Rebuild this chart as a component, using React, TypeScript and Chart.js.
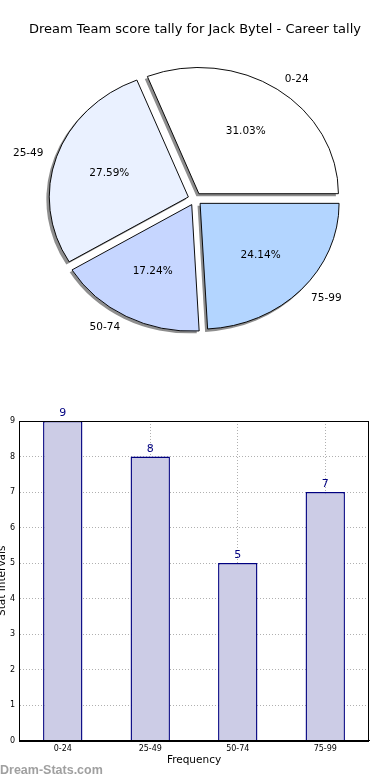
import React, { useEffect, useRef } from 'react';
import { Chart, registerables } from 'chart.js';

Chart.register(...registerables);

// ---- data ----
const TITLE = 'Dream Team score tally for Jack Bytel - Career tally';
const categories = ['0-24', '25-49', '50-74', '75-99'];
const counts = [9, 8, 5, 7];
const pieColors = ['#ffffff', '#eaf1ff', '#c6d6ff', '#b3d5ff'];
const yTickMax = 9;
const yTickStep = 1;
const xAxisTitle = 'Frequency';
const yAxisTitle = 'Stat Intervals';
const WATERMARK = 'Dream-Stats.com';

// ---- style ----
const FONT = '"DejaVu Sans", sans-serif';
const SY = 0.905; // vertical squash of the pie (ellipse)
const OFFSET = 28; // chart.js translates arcs by offset/4
const SHADOW = '#8e8e8e';
const GRID = '#b0b0b0';
const BAR_FILL = '#ccccE6';
const BAR_EDGE = '#000080';

const total = counts.reduce((a, b) => a + b, 0);
const pieOrder = [3, 2, 1, 0]; // chart.js draws clockwise; reverse to mimic counter-clockwise

function squash(ctx: CanvasRenderingContext2D, cx: number, cy: number) {
  ctx.translate(cx, cy);
  ctx.scale(1, SY);
  ctx.translate(-cx, -cy);
}

const pieEllipsePlugin = {
  id: 'pieEllipse',
  beforeDatasetsDraw(chart: any) {
    const ctx = chart.ctx as CanvasRenderingContext2D;
    const arcs = chart.getDatasetMeta(0).data;
    const cx = arcs[0].x;
    const cy = arcs[0].y;
    ctx.save();
    // shadows
    ctx.save();
    ctx.translate(-2.5, 2.5);
    squash(ctx, cx, cy);
    ctx.fillStyle = SHADOW;
    arcs.forEach((a: any) => {
      const p = a.getProps(['x', 'y', 'startAngle', 'endAngle', 'outerRadius'], true);
      const h = (p.startAngle + p.endAngle) / 2;
      const d = OFFSET / 4;
      const ox = p.x + Math.cos(h) * d;
      const oy = p.y + Math.sin(h) * d;
      ctx.beginPath();
      ctx.moveTo(ox, oy);
      ctx.arc(ox, oy, p.outerRadius + 0.5, p.startAngle, p.endAngle);
      ctx.closePath();
      ctx.fill();
    });
    ctx.restore();
    squash(ctx, cx, cy);
  },
  afterDatasetsDraw(chart: any) {
    chart.ctx.restore();
  },
  afterDraw(chart: any) {
    const ctx = chart.ctx as CanvasRenderingContext2D;
    const arcs = chart.getDatasetMeta(0).data;
    ctx.save();
    ctx.fillStyle = '#000';
    ctx.font = `10.5px ${FONT}`;
    ctx.textBaseline = 'middle';
    arcs.forEach((a: any, k: number) => {
      const i = pieOrder[k];
      const p = a.getProps(['x', 'y', 'startAngle', 'endAngle', 'outerRadius'], true);
      const h = (p.startAngle + p.endAngle) / 2;
      const d = OFFSET / 4;
      const r = p.outerRadius;
      const ex = p.x + Math.cos(h) * d;
      const ey = p.y + Math.sin(h) * d;
      const cy = p.y;
      const px = ex + Math.cos(h) * 0.6 * r;
      const py = cy + (ey + Math.sin(h) * 0.6 * r - cy) * SY;
      ctx.textAlign = 'center';
      ctx.fillText(((counts[i] / total) * 100).toFixed(2) + '%', px, py);
      const lx = ex + Math.cos(h) * 1.1 * r;
      const ly = cy + (ey + Math.sin(h) * 1.1 * r - cy) * SY;
      ctx.textAlign = Math.cos(h) > 0 ? 'left' : 'right';
      ctx.fillText(categories[i], lx, ly);
    });
    ctx.restore();
  },
};

const barExtrasPlugin = {
  id: 'barExtras',
  afterDraw(chart: any) {
    const ctx = chart.ctx as CanvasRenderingContext2D;
    const { left, top, right, bottom } = chart.chartArea;
    ctx.save();
    ctx.strokeStyle = '#000';
    ctx.lineWidth = 1;
    ctx.setLineDash([]);
    ctx.strokeRect(Math.round(left) + 0.5, Math.round(top) + 0.5, Math.round(right - left) - 1, Math.round(bottom - top));
    const bars = chart.getDatasetMeta(0).data;
    ctx.fillStyle = BAR_EDGE;
    ctx.font = `11px ${FONT}`;
    ctx.textAlign = 'center';
    ctx.textBaseline = 'alphabetic';
    bars.forEach((b: any, i: number) => {
      ctx.fillText(String(counts[i]), b.x, b.y - 5);
    });
    ctx.restore();
  },
};

function PieChart() {
  const ref = useRef<HTMLCanvasElement>(null);
  useEffect(() => {
    if (!ref.current) return;
    const chart = new Chart(ref.current, {
      type: 'pie',
      data: {
        labels: pieOrder.map((i) => categories[i]),
        datasets: [
          {
            data: pieOrder.map((i) => counts[i]),
            backgroundColor: pieOrder.map((i) => pieColors[i]),
            borderColor: '#000000',
            borderWidth: 1,
            offset: OFFSET,
            hoverOffset: OFFSET,
          },
        ],
      },
      options: {
        animation: false,
        responsive: false,
        events: [],
        rotation: 90,
        radius: 139,
        layout: { padding: { top: 0, bottom: 19.6, left: 0, right: 0 } },
        plugins: {
          legend: { display: false },
          tooltip: { enabled: false },
          title: {
            display: true,
            text: TITLE,
            color: '#000',
            font: { family: FONT, size: 13, weight: 'normal' },
            padding: { top: 22, bottom: 10 },
          },
        },
      } as any,
      plugins: [pieEllipsePlugin],
    });
    return () => chart.destroy();
  }, []);
  return (
    <canvas
      ref={ref}
      width={390}
      height={370}
      style={{ position: 'absolute', left: 0, top: 0, width: 390, height: 370 }}
    />
  );
}

function BarChart() {
  const ref = useRef<HTMLCanvasElement>(null);
  useEffect(() => {
    if (!ref.current) return;
    const chart = new Chart(ref.current, {
      type: 'bar',
      data: {
        labels: categories,
        datasets: [
          {
            data: counts,
            backgroundColor: BAR_FILL,
            borderColor: BAR_EDGE,
            borderWidth: 1.4,
            barPercentage: 0.45,
            categoryPercentage: 1,
          },
        ],
      },
      options: {
        animation: false,
        responsive: false,
        events: [],
        layout: { padding: { top: 26, right: 20, left: 0, bottom: 0 } },
        plugins: { legend: { display: false }, tooltip: { enabled: false } },
        scales: {
          x: {
            type: 'category',
            offset: true,
            z: 1,
            grid: { offset: false, color: GRID, lineWidth: 1, drawTicks: false },
            border: { display: true, color: '#000', dash: [1, 2] },
            ticks: { font: { family: FONT, size: 8 }, color: '#000', padding: 4, maxRotation: 0 },
            title: {
              display: true,
              text: xAxisTitle,
              color: '#000',
              font: { family: FONT, size: 10.5 },
              padding: { top: 0, bottom: 13 },
            },
            afterFit: (s: any) => {
              s.height = 39.5;
            },
          },
          y: {
            min: 0,
            max: yTickMax,
            z: 1,
            grid: { color: GRID, lineWidth: 1, drawTicks: false },
            border: { display: true, color: '#000', dash: [1, 2] },
            ticks: { stepSize: yTickStep, font: { family: FONT, size: 8 }, color: '#000', padding: 4 },
            title: {
              display: true,
              text: yAxisTitle,
              color: '#000',
              font: { family: FONT, size: 10.5 },
              padding: { top: 0, bottom: 0 },
            },
            afterFit: (s: any) => {
              s.width = 23;
            },
          },
        },
      } as any,
      plugins: [barExtrasPlugin],
    });
    return () => chart.destroy();
  }, []);
  return (
    <canvas
      ref={ref}
      width={393}
      height={385}
      style={{ position: 'absolute', left: -3.7, top: 395, width: 393, height: 385 }}
    />
  );
}

export default function App() {
  return (
    <div
      style={{
        position: 'absolute',
        left: 0,
        top: 0,
        width: 390,
        height: 780,
        overflow: 'hidden',
        background: '#ffffff',
      }}
    >
      <PieChart />
      <BarChart />
      <div
        style={{
          position: 'absolute',
          left: 0,
          top: 763,
          fontFamily: '"Liberation Sans", Arial, sans-serif',
          fontWeight: 'bold',
          fontSize: 12.5,
          color: '#a0a0a0',
          lineHeight: '15px',
          whiteSpace: 'nowrap',
        }}
      >
        {WATERMARK}
      </div>
    </div>
  );
}
